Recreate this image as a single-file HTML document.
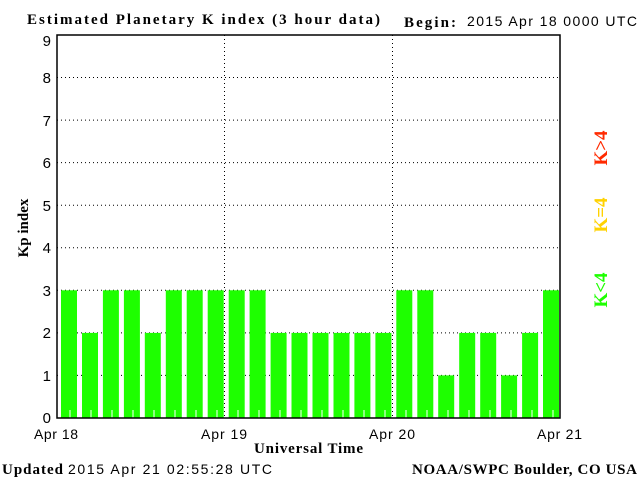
<!DOCTYPE html>
<html><head><style>body{margin:0;background:#fff}svg{display:block}</style></head><body>
<svg width="640" height="480" xmlns="http://www.w3.org/2000/svg">
<rect width="640" height="480" fill="#fff"/>
<g stroke="#000" stroke-dasharray="1,3" stroke-width="1">
<line x1="57" y1="375.4" x2="560" y2="375.4"/><line x1="57" y1="332.9" x2="560" y2="332.9"/><line x1="57" y1="290.3" x2="560" y2="290.3"/><line x1="57" y1="247.8" x2="560" y2="247.8"/><line x1="57" y1="205.2" x2="560" y2="205.2"/><line x1="57" y1="162.6" x2="560" y2="162.6"/><line x1="57" y1="120.1" x2="560" y2="120.1"/><line x1="57" y1="77.5" x2="560" y2="77.5"/>
<line x1="224.5" y1="35" x2="224.5" y2="418"/><line x1="392.5" y1="35" x2="392.5" y2="418"/>
</g>
<g fill="#1eff00">
<rect x="61.0" y="290.3" width="16" height="127.7"/>
<rect x="82.0" y="332.9" width="16" height="85.1"/>
<rect x="102.9" y="290.3" width="16" height="127.7"/>
<rect x="123.9" y="290.3" width="16" height="127.7"/>
<rect x="144.8" y="332.9" width="16" height="85.1"/>
<rect x="165.8" y="290.3" width="16" height="127.7"/>
<rect x="186.7" y="290.3" width="16" height="127.7"/>
<rect x="207.7" y="290.3" width="16" height="127.7"/>
<rect x="228.7" y="290.3" width="16" height="127.7"/>
<rect x="249.6" y="290.3" width="16" height="127.7"/>
<rect x="270.6" y="332.9" width="16" height="85.1"/>
<rect x="291.5" y="332.9" width="16" height="85.1"/>
<rect x="312.5" y="332.9" width="16" height="85.1"/>
<rect x="333.5" y="332.9" width="16" height="85.1"/>
<rect x="354.4" y="332.9" width="16" height="85.1"/>
<rect x="375.4" y="332.9" width="16" height="85.1"/>
<rect x="396.3" y="290.3" width="16" height="127.7"/>
<rect x="417.3" y="290.3" width="16" height="127.7"/>
<rect x="438.2" y="375.4" width="16" height="42.6"/>
<rect x="459.2" y="332.9" width="16" height="85.1"/>
<rect x="480.2" y="332.9" width="16" height="85.1"/>
<rect x="501.1" y="375.4" width="16" height="42.6"/>
<rect x="522.1" y="332.9" width="16" height="85.1"/>
<rect x="543.0" y="290.3" width="16" height="127.7"/>
</g>
<g stroke="#fff" stroke-width="1">
<line x1="70" y1="410" x2="70" y2="418"/><line x1="91" y1="410" x2="91" y2="418"/><line x1="112" y1="410" x2="112" y2="418"/><line x1="133" y1="410" x2="133" y2="418"/><line x1="154" y1="410" x2="154" y2="418"/><line x1="175" y1="410" x2="175" y2="418"/><line x1="196" y1="410" x2="196" y2="418"/><line x1="217" y1="410" x2="217" y2="418"/>
<line x1="238" y1="410" x2="238" y2="418"/><line x1="259" y1="410" x2="259" y2="418"/><line x1="280" y1="410" x2="280" y2="418"/><line x1="301" y1="410" x2="301" y2="418"/><line x1="322" y1="410" x2="322" y2="418"/><line x1="343" y1="410" x2="343" y2="418"/><line x1="364" y1="410" x2="364" y2="418"/><line x1="385" y1="410" x2="385" y2="418"/>
<line x1="406" y1="410" x2="406" y2="418"/><line x1="427" y1="410" x2="427" y2="418"/><line x1="448" y1="410" x2="448" y2="418"/><line x1="469" y1="410" x2="469" y2="418"/><line x1="490" y1="410" x2="490" y2="418"/><line x1="511" y1="410" x2="511" y2="418"/><line x1="532" y1="410" x2="532" y2="418"/><line x1="553" y1="410" x2="553" y2="418"/>
</g>
<rect x="57" y="35" width="503" height="383" fill="none" stroke="#000" stroke-width="1.5"/>
<g font-family="Liberation Sans, sans-serif" font-size="15" fill="#000" text-anchor="end">
<text x="51" y="423">0</text><text x="51" y="381">1</text><text x="51" y="338">2</text><text x="51" y="296">3</text><text x="51" y="253">4</text><text x="51" y="211">5</text><text x="51" y="168">6</text><text x="51" y="126">7</text><text x="51" y="83">8</text><text x="51" y="46">9</text>
</g>
<g font-family="Liberation Sans, sans-serif" font-size="14" fill="#000">
<text x="34" y="439" textLength="44">Apr 18</text><text x="201" y="439" textLength="46">Apr 19</text><text x="369" y="439" textLength="46">Apr 20</text><text x="537" y="439" textLength="45">Apr 21</text>
<text x="467" y="26" textLength="170">2015 Apr 18 0000 UTC</text>
<text x="68" y="474" textLength="204">2015 Apr 21 02:55:28 UTC</text>
</g>
<g font-family="Liberation Serif, serif" font-weight="bold" font-size="15" fill="#000">
<text x="27" y="24" textLength="353">Estimated Planetary K index (3 hour data)</text>
<text x="404" y="27" textLength="52">Begin:</text>
<text x="254" y="453" textLength="109">Universal Time</text>
<text x="2" y="474" textLength="61">Updated</text>
<text x="412" y="474" textLength="225">NOAA/SWPC Boulder, CO USA</text>
<text transform="translate(28,228) rotate(-90)" text-anchor="middle">Kp index</text>
</g>
<g font-family="Liberation Serif, serif" font-weight="bold" font-size="19">
<text transform="translate(607,148) rotate(-90)" text-anchor="middle" fill="#ff2a00">K&gt;4</text>
<text transform="translate(607,215) rotate(-90)" text-anchor="middle" fill="#ffd200">K=4</text>
<text transform="translate(607,290) rotate(-90)" text-anchor="middle" fill="#1eff00">K&lt;4</text>
</g>
</svg>
</body></html>
